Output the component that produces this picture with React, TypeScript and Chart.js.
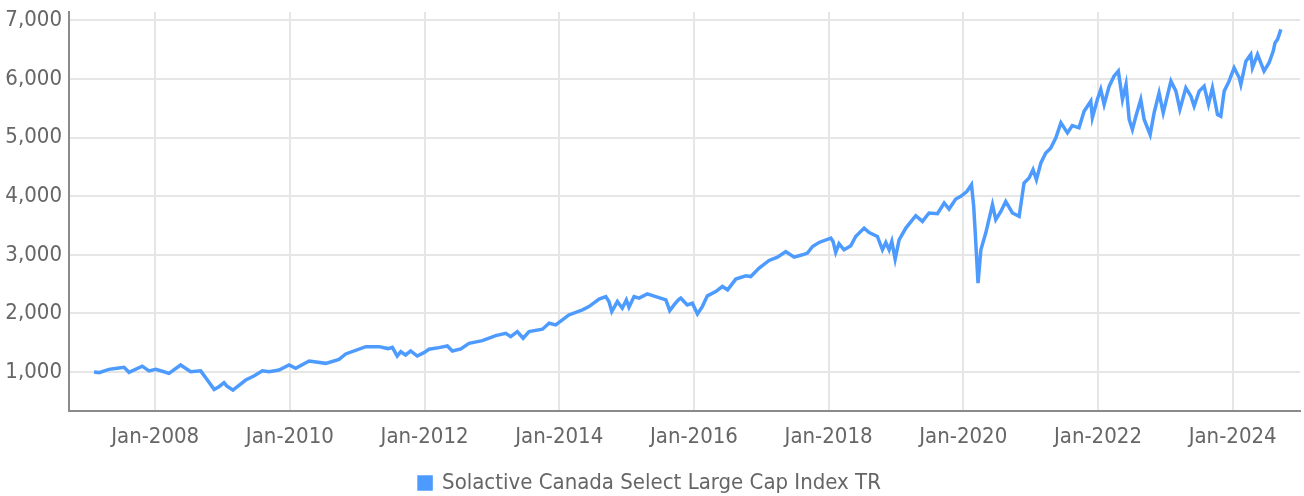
import React, { useEffect, useRef } from "react";
import { Chart, registerables } from "chart.js";

Chart.register(...registerables);

const SERIES_LABEL = "Solactive Canada Select Large Cap Index TR";

const DATES = [
  "2007-02-04", "2007-03-01", "2007-04-24", "2007-06-07", "2007-07-15", "2007-08-11", "2007-10-22", "2007-11-28",
  "2008-01-04", "2008-02-18", "2008-03-15", "2008-05-17", "2008-07-11", "2008-09-04", "2008-10-10", "2008-11-16",
  "2008-12-12", "2009-01-09", "2009-01-25", "2009-02-27", "2009-05-05", "2009-06-19", "2009-08-04", "2009-09-10",
  "2009-11-03", "2009-12-27", "2010-02-02", "2010-04-14", "2010-07-13", "2010-09-24", "2010-10-30", "2011-02-17",
  "2011-04-28", "2011-06-15", "2011-07-09", "2011-08-05", "2011-08-24", "2011-09-20", "2011-10-17", "2011-11-22",
  "2011-12-28", "2012-01-25", "2012-03-18", "2012-05-03", "2012-05-30", "2012-07-15", "2012-08-29", "2012-11-10",
  "2013-01-22", "2013-03-15", "2013-04-12", "2013-05-17", "2013-06-18", "2013-07-20", "2013-10-01", "2013-11-07",
  "2013-12-12", "2014-01-18", "2014-02-23", "2014-05-05", "2014-06-10", "2014-08-04", "2014-09-10", "2014-09-27",
  "2014-10-12", "2014-11-12", "2014-12-08", "2014-12-30", "2015-01-14", "2015-02-11", "2015-03-08", "2015-04-22",
  "2015-06-07", "2015-08-01", "2015-08-22", "2015-09-15", "2015-10-08", "2015-10-21", "2015-11-26", "2015-12-23",
  "2016-01-20", "2016-02-16", "2016-03-13", "2016-04-28", "2016-06-03", "2016-07-01", "2016-08-15", "2016-10-09",
  "2016-11-05", "2016-12-20", "2017-02-13", "2017-03-28", "2017-05-12", "2017-06-27", "2017-08-11", "2017-09-08",
  "2017-10-05", "2017-11-10", "2018-01-13", "2018-01-25", "2018-02-09", "2018-02-27", "2018-03-24", "2018-04-30",
  "2018-05-26", "2018-07-11", "2018-08-08", "2018-09-22", "2018-10-19", "2018-11-07", "2018-11-25", "2018-12-09",
  "2018-12-27", "2019-01-18", "2019-02-24", "2019-04-17", "2019-05-23", "2019-06-28", "2019-08-13", "2019-09-19",
  "2019-10-15", "2019-11-21", "2019-12-18", "2020-01-20", "2020-02-15", "2020-02-27", "2020-03-06", "2020-03-20",
  "2020-04-05", "2020-05-01", "2020-06-07", "2020-06-25", "2020-07-22", "2020-08-18", "2020-09-24", "2020-10-30",
  "2020-11-26", "2020-12-23", "2021-01-14", "2021-02-02", "2021-02-26", "2021-03-22", "2021-04-19", "2021-05-16",
  "2021-06-13", "2021-07-18", "2021-08-14", "2021-09-20", "2021-10-17", "2021-11-23", "2021-12-01", "2021-12-28",
  "2022-01-16", "2022-02-04", "2022-03-01", "2022-03-27", "2022-04-20", "2022-05-12", "2022-06-01", "2022-06-18",
  "2022-07-05", "2022-07-24", "2022-08-20", "2022-09-08", "2022-10-10", "2022-11-01", "2022-11-28", "2022-12-20",
  "2023-02-01", "2023-02-28", "2023-03-19", "2023-04-21", "2023-05-18", "2023-06-05", "2023-07-02", "2023-07-29",
  "2023-08-22", "2023-09-13", "2023-10-10", "2023-10-28", "2023-11-16", "2023-12-12", "2024-01-09", "2024-02-06",
  "2024-02-15", "2024-03-12", "2024-04-08", "2024-04-17", "2024-05-14", "2024-06-19", "2024-07-16", "2024-08-08",
  "2024-08-18", "2024-09-01", "2024-09-19",
];

const VALUES = [
  1000, 990, 1045, 1063, 1080, 995, 1100, 1020,
  1045, 1005, 977, 1120, 1005, 1020, 863, 704,
  749, 817, 760, 692, 863, 932, 1020, 1005,
  1034, 1120, 1063, 1188, 1148, 1217, 1308, 1433,
  1433, 1400, 1422, 1273, 1347, 1291, 1359, 1273,
  1330, 1388, 1416, 1444, 1359, 1393, 1490, 1535,
  1621, 1661, 1603, 1689, 1576, 1689, 1730, 1832,
  1803, 1889, 1974, 2060, 2116, 2243, 2287, 2202,
  2031, 2202, 2089, 2231, 2106, 2287, 2260, 2333,
  2287, 2231, 2048, 2145, 2231, 2260, 2145, 2174,
  1991, 2116, 2299, 2373, 2459, 2402, 2585, 2641,
  2629, 2773, 2903, 2960, 3056, 2960, 3000, 3029,
  3142, 3210, 3285, 3228, 3040, 3188, 3085, 3154,
  3313, 3456, 3381, 3313, 3085, 3210, 3085, 3228,
  2926, 3256, 3456, 3667, 3569, 3713, 3701, 3884,
  3781, 3952, 3997, 4080, 4197, 3826, 3313, 2516,
  3085, 3370, 3855, 3598, 3740, 3911, 3713, 3655,
  4225, 4311, 4453, 4282, 4567, 4738, 4823, 4994,
  5251, 5080, 5205, 5166, 5450, 5621, 5337, 5650,
  5821, 5564, 5877, 6048, 6133, 5650, 5906, 5308,
  5137, 5364, 5650, 5308, 5051, 5422, 5764, 5422,
  5962, 5792, 5479, 5849, 5706, 5535, 5792, 5877,
  5564, 5849, 5393, 5364, 5792, 5962, 6191, 6020,
  5906, 6304, 6419, 6191, 6419, 6133, 6276, 6476,
  6618, 6675, 6846,
];

const X_TICKS = [2008, 2010, 2012, 2014, 2016, 2018, 2020, 2022, 2024];
const Y_TICKS = [1000, 2000, 3000, 4000, 5000, 6000, 7000];
const X_MIN = 2006.72;
const X_MAX = 2025.0;
const Y_MIN = 335;
const Y_MAX = 7142;

const FONT_FAMILY = "'Liberation Sans Narrow', 'DejaVu Sans Condensed', 'Roboto', sans-serif";
const FONT_SIZE = 22;
const TEXT_COLOR = "#666666";
const LINE_COLOR = "#4e9bff";
const GRID_COLOR = "#e6e6e6";
const AXIS_COLOR = "#8a8a8a";

function toYear(s: string): number {
  const [y, m, d] = s.split("-").map(Number);
  return y + (m - 1) / 12 + ((d || 1) - 1) / 365;
}

export default function App() {
  const canvasRef = useRef<HTMLCanvasElement | null>(null);

  useEffect(() => {
    document.body.style.margin = "0";
    document.body.style.overflow = "hidden";
    const canvas = canvasRef.current;
    if (!canvas) return;
    const points = DATES.map((d, i) => ({ x: toYear(d), y: VALUES[i] }));
    const chart = new Chart(canvas, {
      type: "line",
      data: {
        datasets: [
          {
            label: SERIES_LABEL,
            data: points,
            borderColor: LINE_COLOR,
            backgroundColor: LINE_COLOR,
            borderWidth: 3.5,
            pointRadius: 0,
            pointHoverRadius: 0,
            tension: 0,
            fill: false,
          },
        ],
      },
      options: {
        animation: false,
        responsive: false,
        maintainAspectRatio: false,
        devicePixelRatio: 1,
        layout: { padding: { top: 12, right: 4, left: 0, bottom: 0 } },
        plugins: {
          tooltip: { enabled: false },
          legend: {
            display: true,
            position: "bottom",
            labels: {
              boxWidth: 12,
              boxHeight: 12,
              padding: 10,
              color: TEXT_COLOR,
              font: { family: FONT_FAMILY, size: FONT_SIZE },
            },
          },
        },
        scales: {
          x: {
            type: "linear",
            min: X_MIN,
            max: X_MAX,
            afterBuildTicks: (scale: any) => {
              scale.ticks = X_TICKS.map((v) => ({ value: v }));
            },
            afterFit: (scale: any) => {
              scale.height = 51;
              scale.paddingLeft = 0;
              scale.paddingRight = 0;
            },
            ticks: {
              autoSkip: false,
              maxRotation: 0,
              padding: 13,
              color: TEXT_COLOR,
              font: { family: FONT_FAMILY, size: FONT_SIZE },
              callback: (v: any) => "Jan-" + v,
            },
            grid: { color: GRID_COLOR, lineWidth: 2, drawTicks: false },
            border: { display: true, color: AXIS_COLOR, width: 2 },
          },
          y: {
            type: "linear",
            min: Y_MIN,
            max: Y_MAX,
            afterBuildTicks: (scale: any) => {
              scale.ticks = Y_TICKS.map((v) => ({ value: v }));
            },
            afterFit: (scale: any) => {
              scale.width = 69;
              scale.paddingTop = 0;
              scale.paddingBottom = 0;
            },
            ticks: {
              padding: 7,
              color: TEXT_COLOR,
              font: { family: FONT_FAMILY, size: FONT_SIZE },
              callback: (v: any) => Number(v).toLocaleString("en-US"),
            },
            grid: { color: GRID_COLOR, lineWidth: 2, drawTicks: false },
            border: { display: true, color: AXIS_COLOR, width: 2 },
          },
        },
      },
    });
    return () => chart.destroy();
  }, []);

  return (
    <div style={{ width: 1304, height: 504 }}>
      <canvas ref={canvasRef} width={1304} height={504} style={{ display: "block", width: 1304, height: 504 }} />
    </div>
  );
}
